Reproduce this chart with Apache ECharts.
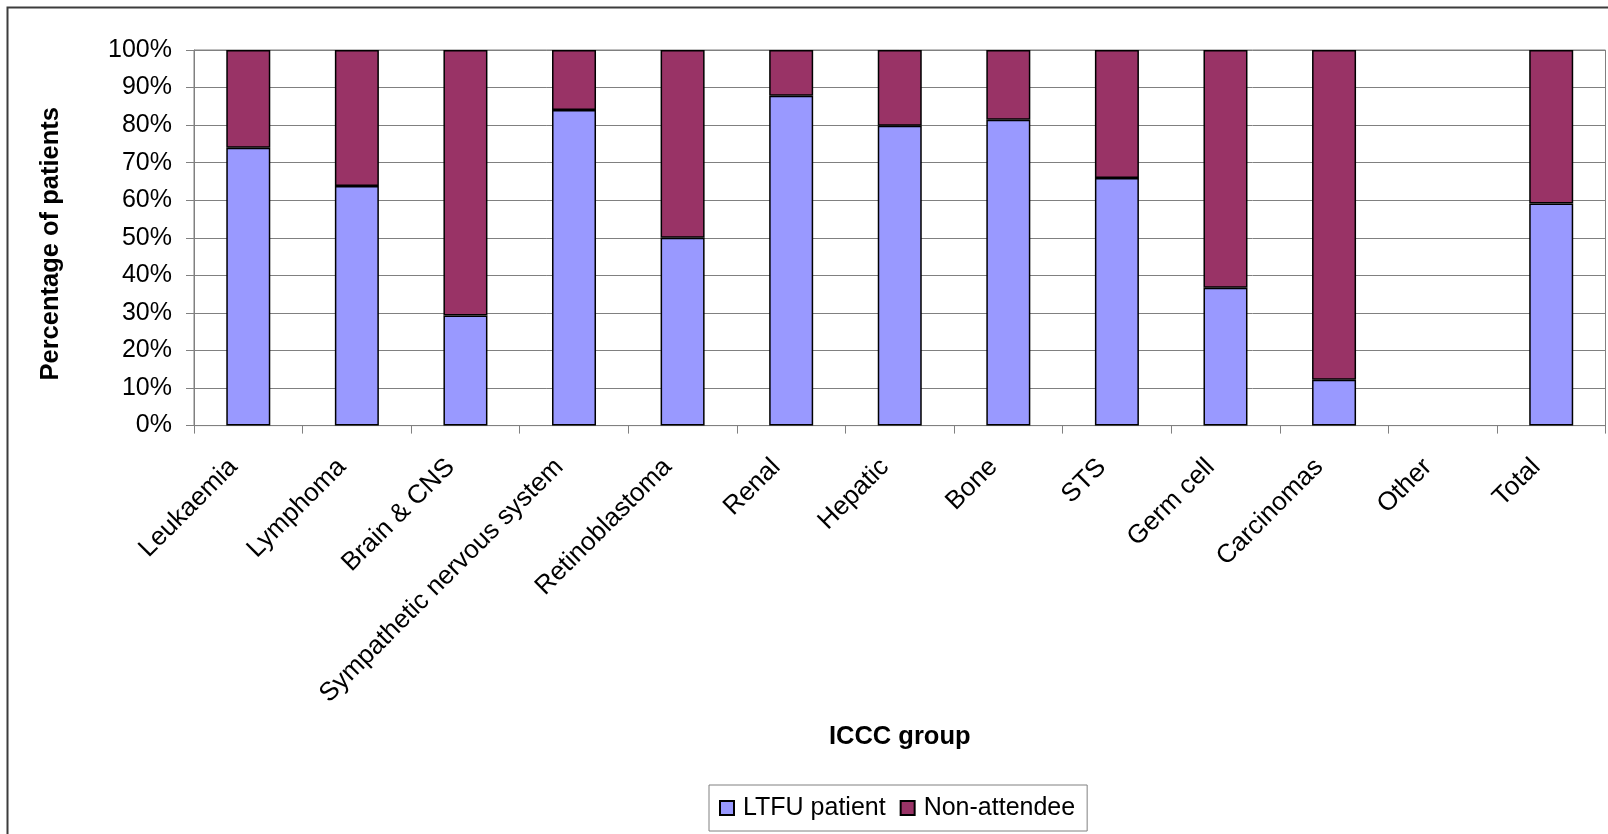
<!DOCTYPE html>
<html>
<head>
<meta charset="utf-8">
<title>ICCC group – LTFU patients vs non-attendees</title>
<script src="https://cdn.jsdelivr.net/npm/echarts@6/dist/echarts.min.js"></script>
<style>
  html, body { margin: 0; padding: 0; background: #ffffff; }
  #chart { width: 1608px; height: 834px; }
</style>
</head>
<body>
<div id="chart"></div>
<script>
// ICCC diagnostic groups shown along the x axis
const categories = [
  'Leukaemia', 'Lymphoma', 'Brain & CNS', 'Sympathetic nervous system',
  'Retinoblastoma', 'Renal', 'Hepatic', 'Bone', 'STS', 'Germ cell',
  'Carcinomas', 'Other', 'Total'
];

// Share of patients (%) in each group; "Other" has no patients
const ltfuPatient = [74.0, 63.8, 29.3, 84.0, 50.0, 87.8, 79.8, 81.4, 65.9, 36.7, 12.2, null, 59.1];
const nonAttendee = [26.0, 36.2, 70.7, 16.0, 50.0, 12.2, 20.2, 18.6, 34.1, 63.3, 87.8, null, 40.9];

const seriesNames = ['LTFU patient', 'Non-attendee'];
const seriesColors = ['#9999FF', '#993366'];

const FONT = '"Liberation Sans", Arial, Helvetica, sans-serif';
const GRID_GRAY = '#808080';

const chart = echarts.init(document.getElementById('chart'), null, { renderer: 'canvas' });

const barSeries = [ltfuPatient, nonAttendee].map((values, i) => ({
  name: seriesNames[i],
  type: 'bar',
  stack: 'share',
  data: values,
  barWidth: 44,
  itemStyle: {
    color: seriesColors[i],
    borderColor: '#000000',
    borderWidth: 1.5
  },
  emphasis: { disabled: true }
}));

chart.setOption({
  animation: false,
  backgroundColor: '#ffffff',
  textStyle: { fontFamily: FONT, color: '#000000' },
  graphic: [{
    // chart area frame (left and top edges visible)
    type: 'rect',
    shape: { x: 7.5, y: 7.5, width: 1700, height: 900 },
    style: { fill: 'none', stroke: '#3c3c3c', lineWidth: 2 },
    silent: true,
    z: 0
  }],
  grid: {
    left: 194,
    right: 2.5,
    top: 50,
    bottom: 408.4,
    show: true,
    borderColor: GRID_GRAY,
    borderWidth: 1,
    backgroundColor: 'transparent'
  },
  legend: {
    data: seriesNames,
    left: 709,
    top: 785,
    orient: 'horizontal',
    icon: 'rect',
    itemWidth: 14,
    itemHeight: 14,
    itemGap: 14,
    padding: [9, 12, 9, 10],
    borderColor: GRID_GRAY,
    borderWidth: 1,
    backgroundColor: '#ffffff',
    selectedMode: false,
    textStyle: {
      fontFamily: FONT,
      fontSize: 25,
      color: '#000000',
      lineHeight: 28,
      padding: [0, 0, 0, 4]
    }
  },
  xAxis: {
    type: 'category',
    data: categories,
    name: 'ICCC group',
    nameLocation: 'middle',
    nameGap: 298,
    nameTextStyle: { fontFamily: FONT, fontSize: 25.5, fontWeight: 'bold', color: '#000000' },
    axisLine: { show: true, lineStyle: { color: GRID_GRAY, width: 1 } },
    axisTick: { show: true, length: 8, alignWithLabel: false, interval: 0, lineStyle: { color: GRID_GRAY, width: 1 } },
    axisLabel: {
      interval: 0,
      rotate: 45,
      margin: 41,
      fontFamily: FONT,
      fontSize: 26,
      color: '#000000',
      verticalAlign: 'bottom',
      padding: [0, 8, 0, 0]
    },
    splitLine: { show: false }
  },
  yAxis: {
    type: 'value',
    min: 0,
    max: 100,
    interval: 10,
    name: 'Percentage of patients',
    nameLocation: 'middle',
    nameRotate: 90,
    nameGap: 130,
    nameTextStyle: {
      fontFamily: FONT, fontSize: 25.5, fontWeight: 'bold', color: '#000000',
      padding: [0, 12, 0, 0]
    },
    axisLine: { show: true, lineStyle: { color: GRID_GRAY, width: 1 } },
    axisTick: { show: true, length: 8, lineStyle: { color: GRID_GRAY, width: 1 } },
    axisLabel: {
      margin: 22,
      formatter: '{value}%',
      fontFamily: FONT,
      fontSize: 25,
      color: '#000000'
    },
    splitLine: { show: true, lineStyle: { color: GRID_GRAY, width: 1 } }
  },
  series: barSeries
});
</script>
</body>
</html>
